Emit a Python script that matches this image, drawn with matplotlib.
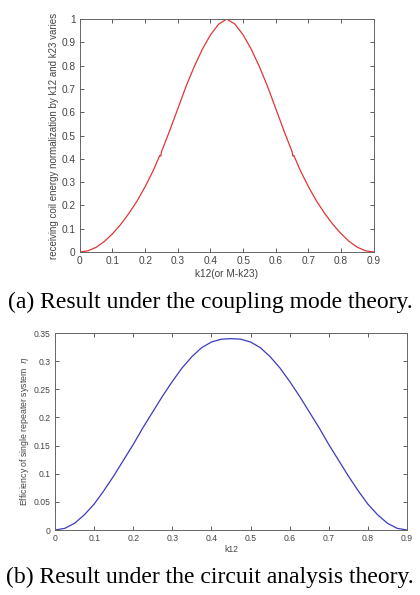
import numpy as np
import matplotlib.pyplot as plt

# values
k12 = [0, 0.025, 0.05, 0.075, 0.1, 0.125, 0.15, 0.175, 0.2, 0.225, 0.245, 0.248, 0.25,
       0.275, 0.3, 0.325, 0.35, 0.375, 0.4, 0.425, 0.45,
       0.475, 0.5, 0.525, 0.55, 0.575, 0.6, 0.625, 0.65, 0.652, 0.655, 0.675, 0.7,
       0.725, 0.75, 0.775, 0.8, 0.825, 0.85, 0.875, 0.9]
energy = [0, 0.005, 0.02, 0.045, 0.078, 0.118, 0.165, 0.218, 0.28, 0.35, 0.415, 0.412, 0.43,
          0.52, 0.615, 0.71, 0.795, 0.87, 0.932, 0.978, 1.0,
          0.978, 0.932, 0.87, 0.795, 0.71, 0.615, 0.52, 0.43, 0.412, 0.415, 0.35, 0.28,
          0.218, 0.165, 0.118, 0.078, 0.045, 0.02, 0.005, 0]

k12_b = [0, 0.025, 0.05, 0.075, 0.1, 0.125, 0.15, 0.175, 0.2, 0.225, 0.25, 0.275, 0.3,
         0.325, 0.35, 0.375, 0.4, 0.425, 0.45, 0.475, 0.5, 0.525, 0.55, 0.575, 0.6,
         0.625, 0.65, 0.675, 0.7, 0.725, 0.75, 0.775, 0.8, 0.825, 0.85, 0.875, 0.9]
eff = [0, 0.003, 0.012, 0.027, 0.046, 0.07, 0.096, 0.124, 0.152, 0.182, 0.21, 0.238, 0.264,
       0.288, 0.308, 0.324, 0.334, 0.339, 0.34, 0.339, 0.334, 0.324, 0.308, 0.288, 0.264,
       0.238, 0.21, 0.182, 0.152, 0.124, 0.096, 0.07, 0.046, 0.027, 0.012, 0.003, 0]

xticks = [0, 0.1, 0.2, 0.3, 0.4, 0.5, 0.6, 0.7, 0.8, 0.9]
xticklabels = ['0', '0.1', '0.2', '0.3', '0.4', '0.5', '0.6', '0.7', '0.8', '0.9']
yticks_a = [0, 0.1, 0.2, 0.3, 0.4, 0.5, 0.6, 0.7, 0.8, 0.9, 1]
yticklabels_a = ['0', '0.1', '0.2', '0.3', '0.4', '0.5', '0.6', '0.7', '0.8', '0.9', '1']
yticks_b = [0, 0.05, 0.1, 0.15, 0.2, 0.25, 0.3, 0.35]
yticklabels_b = ['0', '0.05', '0.1', '0.15', '0.2', '0.25', '0.3', '0.35']

plt.rcParams['font.family'] = ['Liberation Sans', 'DejaVu Sans']
gray = '#444444'

fig = plt.figure(figsize=(4.2, 5.95), dpi=100)


def style(ax, fs):
    ax.tick_params(direction='in', top=True, right=True, length=3, width=0.6,
                   labelsize=fs, colors=gray, pad=3)
    for s in ax.spines.values():
        s.set_color('#666666')
        s.set_linewidth(0.7)


ax1 = fig.add_axes([0.190, 0.5765, 0.700, 0.3915])
ax1.plot(k12, energy, color='#e03535', lw=0.9)
ax1.set_xlim(0, 0.9)
ax1.set_ylim(0, 1)
ax1.set_xticks(xticks, xticklabels)
ax1.set_yticks(yticks_a, yticklabels_a)
style(ax1, 7.3)
ax1.set_xlabel('k12(or M-k23)', fontsize=7.3, color=gray, labelpad=2)
ax1.set_ylabel('receiving coil energy normalization by k12 and k23 varies',
               fontsize=7, color=gray, labelpad=2)

ax2 = fig.add_axes([0.131, 0.1092, 0.838, 0.3311])
ax2.plot(k12_b, eff, color='#3b3bbf', lw=0.9)
ax2.set_xlim(0, 0.9)
ax2.set_ylim(0, 0.35)
ax2.set_xticks(xticks, xticklabels)
ax2.set_yticks(yticks_b, yticklabels_b)
style(ax2, 6.2)
ax2.set_xlabel('k12', fontsize=6.2, color=gray, labelpad=1)
ax2.set_ylabel('Efficiency of single repeater system  $\\eta$', fontsize=6.3,
               color=gray, labelpad=2)

fig.text(0.5, 1 - 302 / 595, '(a) Result under the coupling mode theory.',
         ha='center', va='center', fontsize=17, family='Liberation Serif')
fig.text(0.5, 1 - 577 / 595, '(b) Result under the circuit analysis theory.',
         ha='center', va='center', fontsize=17, family='Liberation Serif')

fig.savefig('out.png', dpi=100)
